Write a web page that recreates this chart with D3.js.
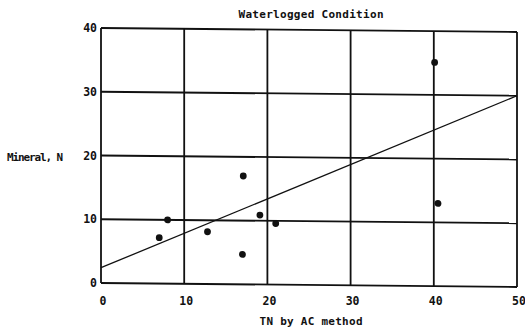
<!DOCTYPE html>
<html>
<head>
<meta charset="utf-8">
<script src="https://cdn.jsdelivr.net/npm/d3@7/dist/d3.min.js"></script>
<style>
  html, body { margin: 0; padding: 0; background: #fff; }
  svg { display: block; }
  text { font-family: "DejaVu Sans Mono", monospace; fill: #111; }
</style>
</head>
<body>
<svg id="chart" width="525" height="329"></svg>
<script>
// Total N by the AC method vs. mineralised N, waterlogged incubation
const tnAC      = [7.0, 8.0, 12.8, 17.0, 17.1, 19.1, 21.0, 40.1, 40.5];
const mineralN  = [7.2, 10.0, 8.2, 4.7, 17.0, 10.9, 9.6, 35.1, 13.0];
// fitted line, evaluated at the ends of the x range
const fitX = [0, 50];
const fitY = [2.4, 30.0];
const xTicks = [0, 10, 20, 30, 40, 50];
const yTicks = [0, 10, 20, 30, 40];

const svg = d3.select("#chart");
const margin = { left: 101, top: 28 };
const w = 416, h = 255;

const x = d3.scaleLinear().domain([0, 50]).range([0, w]);
const y = d3.scaleLinear().domain([0, 40]).range([h, 0]);

// plot frame, grid and marks (the plotted area leans slightly)
const g = svg.append("g")
  .attr("transform", `translate(${margin.left},${margin.top}) skewY(0.55)`);

g.append("g").selectAll("line.v").data(xTicks).join("line")
  .attr("x1", d => x(d)).attr("x2", d => x(d))
  .attr("y1", 0).attr("y2", h)
  .attr("stroke", "#111").attr("stroke-width", 1.8);

g.append("g").selectAll("line.h").data(yTicks).join("line")
  .attr("x1", 0).attr("x2", w)
  .attr("y1", d => y(d)).attr("y2", d => y(d))
  .attr("stroke", "#111").attr("stroke-width", 1.8);

g.append("line")
  .attr("x1", x(fitX[0])).attr("y1", y(fitY[0]))
  .attr("x2", x(fitX[1])).attr("y2", y(fitY[1]))
  .attr("stroke", "#111").attr("stroke-width", 1.3);

g.append("g").selectAll("circle").data(tnAC).join("circle")
  .attr("cx", d => x(d))
  .attr("cy", (d, i) => y(mineralN[i]))
  .attr("r", 3.4)
  .attr("fill", "#111");

// tick labels
svg.append("g").selectAll("text").data(xTicks).join("text")
  .attr("x", d => margin.left + x(d) + 2)
  .attr("y", 305)
  .attr("text-anchor", "middle")
  .attr("font-size", 11.5).attr("font-weight", "bold")
  .text(d => d);

svg.append("g").selectAll("text").data(yTicks).join("text")
  .attr("x", 97)
  .attr("y", d => margin.top + y(d) + 4)
  .attr("text-anchor", "end")
  .attr("font-size", 11.5).attr("font-weight", "bold")
  .text(d => d);

// titles
svg.append("text")
  .attr("x", 311).attr("y", 18)
  .attr("text-anchor", "middle")
  .attr("font-size", 11).attr("font-weight", "bold")
  .attr("textLength", 145)
  .text("Waterlogged Condition");

svg.append("text")
  .attr("x", 311).attr("y", 325)
  .attr("text-anchor", "middle")
  .attr("font-size", 11).attr("font-weight", "bold")
  .attr("textLength", 103)
  .text("TN by AC method");

svg.append("text")
  .attr("x", 7).attr("y", 161)
  .attr("font-size", 11).attr("font-weight", "bold")
  .attr("textLength", 56)
  .text("Mineral, N");
</script>
</body>
</html>
